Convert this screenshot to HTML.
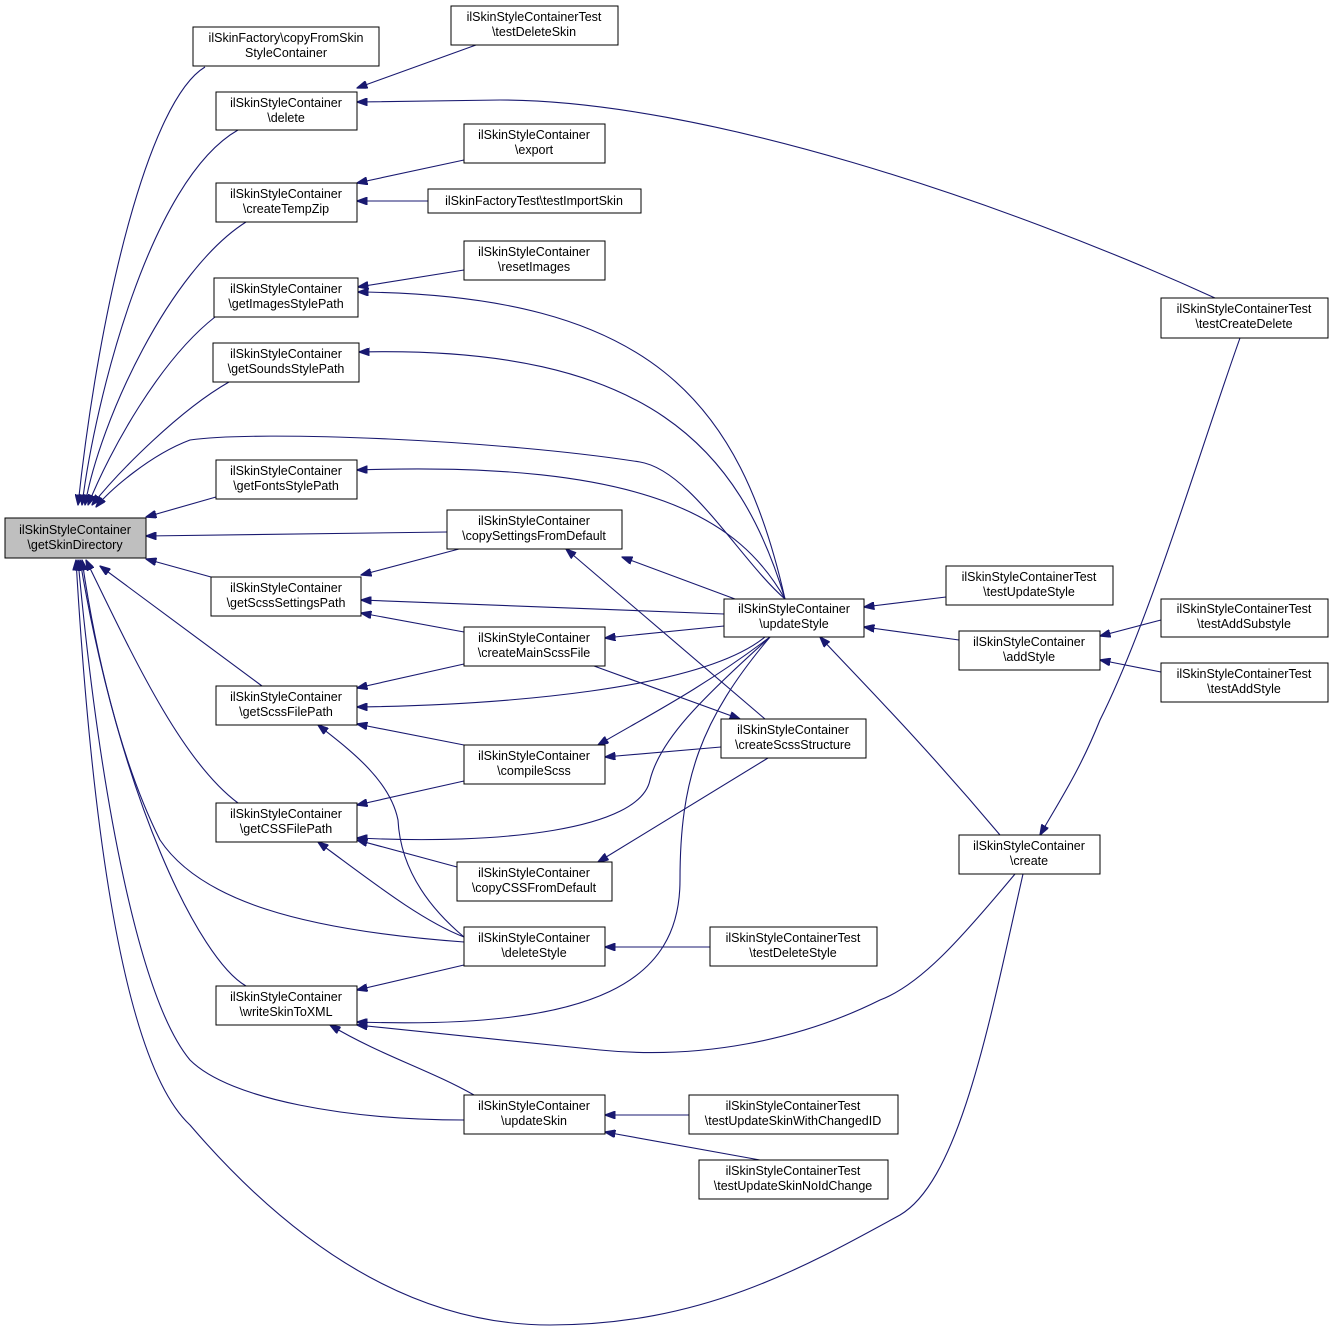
<!DOCTYPE html>
<html><head><meta charset="utf-8"><style>
html,body{margin:0;padding:0;background:#fff;}
svg{display:block;}
text{font-family:"Liberation Sans",Arial,sans-serif;font-size:12.5px;fill:#000;}
</style></head><body>
<svg width="1333" height="1329" viewBox="0 0 1333 1329" xmlns="http://www.w3.org/2000/svg">
<defs><marker id="a" markerWidth="11" markerHeight="8" refX="10.5" refY="4" orient="auto" markerUnits="userSpaceOnUse"><path d="M0,0 L11,4 L0,8 z" fill="#191970" stroke="#191970"/></marker></defs>
<g fill="none" stroke="#191970" stroke-width="1.1" marker-end="url(#a)">
<path d="M205,67 C150,100 100,300 78,505"/>
<path d="M238,130 C150,180 95,400 82,505"/>
<path d="M246,222 C170,270 100,420 85,505"/>
<path d="M215,317 C160,360 110,450 88,505"/>
<path d="M229,382 C180,410 120,470 92,505"/>
<path d="M785,599 C740,560 690,470 640,462 C500,440 260,430 190,440 C150,455 110,490 96,507"/>
<path d="M216,497 L146,517"/>
<path d="M447,532 L146,536"/>
<path d="M211,577 L146,559"/>
<path d="M262,686 L100,566"/>
<path d="M238,803 C180,760 130,650 86,560"/>
<path d="M464,942 C300,930 200,900 160,840 C120,760 95,650 82,560"/>
<path d="M246,986 C200,960 120,800 80,560"/>
<path d="M464,1120 C350,1120 230,1100 190,1060 C140,1000 100,800 78,560"/>
<path d="M1023,874 C990,1020 960,1180 900,1215 C800,1270 700,1325 550,1325 C400,1325 280,1230 190,1125 C120,1060 90,800 76,560"/>
<path d="M476,45 L357,88"/>
<path d="M1215,298 C1000,200 700,100 500,100 L357,102"/>
<path d="M464,160 L357,183"/>
<path d="M428,201 L357,201"/>
<path d="M464,270 L358,287"/>
<path d="M785,599 C740,400 650,295 358,292"/>
<path d="M785,599 C740,450 650,345 359,352"/>
<path d="M785,599 C740,520 650,460 357,470"/>
<path d="M735,599 L622,557"/>
<path d="M765,719 L566,549"/>
<path d="M459,549 L361,575"/>
<path d="M724,614 L361,600"/>
<path d="M464,632 L361,613"/>
<path d="M724,626 L605,638"/>
<path d="M464,664 L357,688"/>
<path d="M765,637 C700,690 500,705 357,707"/>
<path d="M464,745 L357,724"/>
<path d="M464,937 C420,900 400,860 398,820 C390,780 350,750 318,725"/>
<path d="M594,666 L740,719"/>
<path d="M770,637 C700,690 640,720 598,745"/>
<path d="M721,747 L605,757"/>
<path d="M464,781 L357,805"/>
<path d="M770,637 C700,700 660,740 650,780 C640,830 500,845 357,838"/>
<path d="M457,867 L357,840"/>
<path d="M768,758 L598,862"/>
<path d="M464,937 C420,920 370,880 318,842"/>
<path d="M710,947 L605,947"/>
<path d="M464,965 L357,990"/>
<path d="M770,637 C700,720 680,780 680,880 C680,980 600,1030 357,1022"/>
<path d="M1015,874 C960,940 920,985 880,1000 C800,1040 700,1060 600,1050 L357,1025"/>
<path d="M474,1095 C430,1070 380,1055 330,1025"/>
<path d="M689,1115 L605,1115"/>
<path d="M760,1160 L605,1132"/>
<path d="M946,597 L864,607"/>
<path d="M959,640 L864,627"/>
<path d="M1161,620 L1100,636"/>
<path d="M1161,672 L1100,660"/>
<path d="M1000,835 C920,740 860,680 820,637"/>
<path d="M1240,338 C1200,450 1150,620 1100,720 C1080,770 1060,800 1040,835"/>
</g>
<g stroke="#000" stroke-width="1" fill="#fff">
<rect x="5" y="518" width="141" height="40" fill="#bfbfbf"/>
<rect x="193" y="27" width="186" height="39"/>
<rect x="216" y="92" width="141" height="38"/>
<rect x="451" y="6" width="167" height="39"/>
<rect x="216" y="183" width="141" height="39"/>
<rect x="464" y="124" width="141" height="39"/>
<rect x="428" y="189" width="213" height="24"/>
<rect x="214" y="278" width="144" height="39"/>
<rect x="464" y="241" width="141" height="39"/>
<rect x="213" y="343" width="146" height="39"/>
<rect x="216" y="460" width="141" height="39"/>
<rect x="447" y="510" width="175" height="39"/>
<rect x="211" y="577" width="150" height="39"/>
<rect x="464" y="627" width="141" height="39"/>
<rect x="724" y="599" width="140" height="38"/>
<rect x="946" y="566" width="167" height="39"/>
<rect x="959" y="631" width="141" height="39"/>
<rect x="1161" y="298" width="167" height="40"/>
<rect x="1161" y="599" width="167" height="38"/>
<rect x="1161" y="663" width="167" height="39"/>
<rect x="216" y="686" width="141" height="39"/>
<rect x="464" y="745" width="141" height="39"/>
<rect x="721" y="719" width="145" height="39"/>
<rect x="216" y="803" width="141" height="39"/>
<rect x="457" y="862" width="155" height="39"/>
<rect x="959" y="835" width="141" height="39"/>
<rect x="464" y="927" width="141" height="39"/>
<rect x="710" y="927" width="167" height="39"/>
<rect x="216" y="986" width="141" height="39"/>
<rect x="464" y="1095" width="141" height="39"/>
<rect x="689" y="1095" width="209" height="39"/>
<rect x="699" y="1160" width="189" height="39"/>
</g>
<g text-anchor="middle">
<text x="75" y="534">ilSkinStyleContainer</text><text x="75" y="549">\getSkinDirectory</text>
<text x="286" y="42">ilSkinFactory\copyFromSkin</text><text x="286" y="57">StyleContainer</text>
<text x="286" y="107">ilSkinStyleContainer</text><text x="286" y="122">\delete</text>
<text x="534" y="21">ilSkinStyleContainerTest</text><text x="534" y="36">\testDeleteSkin</text>
<text x="286" y="198">ilSkinStyleContainer</text><text x="286" y="213">\createTempZip</text>
<text x="534" y="139">ilSkinStyleContainer</text><text x="534" y="154">\export</text>
<text x="534" y="205">ilSkinFactoryTest\testImportSkin</text>
<text x="286" y="293">ilSkinStyleContainer</text><text x="286" y="308">\getImagesStylePath</text>
<text x="534" y="256">ilSkinStyleContainer</text><text x="534" y="271">\resetImages</text>
<text x="286" y="358">ilSkinStyleContainer</text><text x="286" y="373">\getSoundsStylePath</text>
<text x="286" y="475">ilSkinStyleContainer</text><text x="286" y="490">\getFontsStylePath</text>
<text x="534" y="525">ilSkinStyleContainer</text><text x="534" y="540">\copySettingsFromDefault</text>
<text x="286" y="592">ilSkinStyleContainer</text><text x="286" y="607">\getScssSettingsPath</text>
<text x="534" y="642">ilSkinStyleContainer</text><text x="534" y="657">\createMainScssFile</text>
<text x="794" y="613">ilSkinStyleContainer</text><text x="794" y="628">\updateStyle</text>
<text x="1029" y="581">ilSkinStyleContainerTest</text><text x="1029" y="596">\testUpdateStyle</text>
<text x="1029" y="646">ilSkinStyleContainer</text><text x="1029" y="661">\addStyle</text>
<text x="1244" y="313">ilSkinStyleContainerTest</text><text x="1244" y="328">\testCreateDelete</text>
<text x="1244" y="613">ilSkinStyleContainerTest</text><text x="1244" y="628">\testAddSubstyle</text>
<text x="1244" y="678">ilSkinStyleContainerTest</text><text x="1244" y="693">\testAddStyle</text>
<text x="286" y="701">ilSkinStyleContainer</text><text x="286" y="716">\getScssFilePath</text>
<text x="534" y="760">ilSkinStyleContainer</text><text x="534" y="775">\compileScss</text>
<text x="793" y="734">ilSkinStyleContainer</text><text x="793" y="749">\createScssStructure</text>
<text x="286" y="818">ilSkinStyleContainer</text><text x="286" y="833">\getCSSFilePath</text>
<text x="534" y="877">ilSkinStyleContainer</text><text x="534" y="892">\copyCSSFromDefault</text>
<text x="1029" y="850">ilSkinStyleContainer</text><text x="1029" y="865">\create</text>
<text x="534" y="942">ilSkinStyleContainer</text><text x="534" y="957">\deleteStyle</text>
<text x="793" y="942">ilSkinStyleContainerTest</text><text x="793" y="957">\testDeleteStyle</text>
<text x="286" y="1001">ilSkinStyleContainer</text><text x="286" y="1016">\writeSkinToXML</text>
<text x="534" y="1110">ilSkinStyleContainer</text><text x="534" y="1125">\updateSkin</text>
<text x="793" y="1110">ilSkinStyleContainerTest</text><text x="793" y="1125">\testUpdateSkinWithChangedID</text>
<text x="793" y="1175">ilSkinStyleContainerTest</text><text x="793" y="1190">\testUpdateSkinNoIdChange</text>
</g>
</svg>
</body></html>
